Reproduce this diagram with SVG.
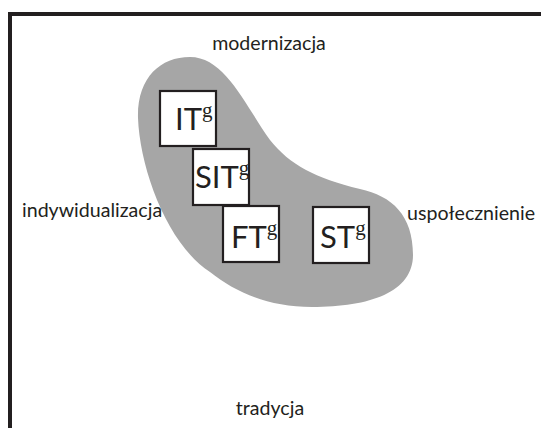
<svg xmlns="http://www.w3.org/2000/svg" width="541" height="428" viewBox="0 0 541 428">
<style>
.lbl{font-family:Lato,"Open Sans",sans-serif;font-size:19.6px;fill:#231f20}
.box{fill:#fff;stroke:#231f20;stroke-width:2.2}
.bt{font-family:Lato,"Liberation Sans",sans-serif;font-size:31px;fill:#231f20}
.sup{font-family:"Liberation Serif",serif;font-size:21px}
</style>
<rect width="541" height="428" fill="#fff"/>
<path d="M10,428 V14 H541" fill="none" stroke="#231f20" stroke-width="4"/>
<path id="blob" d="M190,57 C160,57 137,78 138,118 C140,170 168,245 210,272 C235,292 268,307 312,307 C370,307 413,292 413,255 C413,215 392,196 360,189 C315,178 290,165 270,140 C245,105 225,57 190,57 Z" fill="#a6a6a6"/>
<text class="lbl" x="269" y="50" text-anchor="middle">modernizacja</text>
<text class="lbl" x="22" y="217">indywidualizacja</text>
<text class="lbl" x="407" y="220">uspołecznienie</text>
<text class="lbl" x="270" y="415" text-anchor="middle">tradycja</text>
<g id="connectors"></g>
<g id="IT"><rect class="box" x="160" y="91" width="56" height="55"/><text class="bt" x="175" y="130">IT<tspan class="sup" dy="-13">g</tspan></text></g>
<g id="SIT"><rect class="box" x="193" y="149" width="56" height="56"/><text class="bt" x="195" y="188">SIT<tspan class="sup" dy="-13">g</tspan></text></g>
<g id="FT"><rect class="box" x="223" y="206" width="56" height="56"/><text class="bt" x="231" y="248">FT<tspan class="sup" dy="-13">g</tspan></text></g>
<g id="ST"><rect class="box" x="313" y="207" width="56" height="56"/><text class="bt" x="320" y="248">ST<tspan class="sup" dy="-13">g</tspan></text></g>
</svg>
